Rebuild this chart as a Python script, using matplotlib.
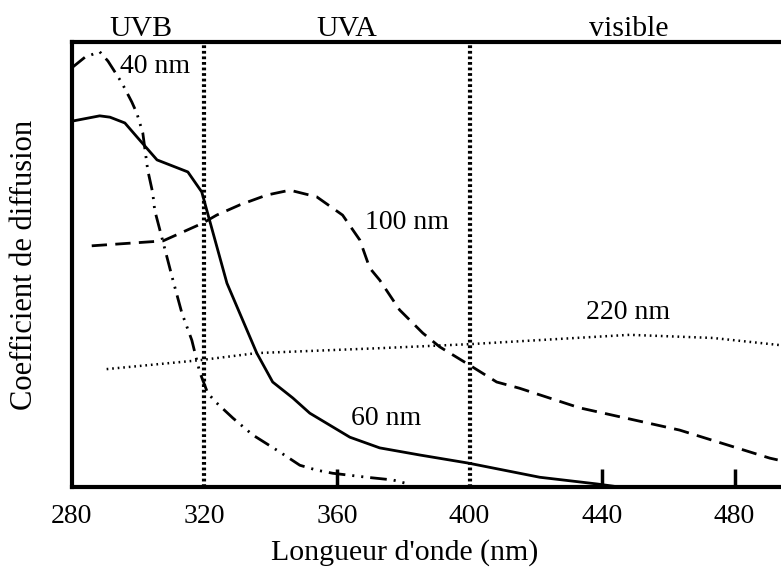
import matplotlib
matplotlib.use("Agg")
import matplotlib.pyplot as plt

plt.rcParams["font.family"] = ["Liberation Serif", "DejaVu Serif"]
plt.rcParams["lines.scale_dashes"] = False

# scattering coefficient (arbitrary units) vs wavelength (nm)
wl_40 = [280.0, 284.0, 288.4, 290.9, 295.1, 298.1, 299.6, 301.4, 302.9, 304.4, 305.0,
         307.5, 310.5, 313.2, 316.2, 318.6, 321.0, 323.7, 328.6, 334.6, 342.7, 348.8,
         353.9, 358.7, 369.0, 376.8, 380.5]
y_40 = [94.2, 96.6, 97.8, 95.7, 90.8, 86.5, 84.0, 79.6, 71.2, 66.1, 62.2,
        55.1, 46.5, 39.1, 33.0, 25.8, 21.1, 18.9, 15.5, 11.7, 7.9, 4.9,
        3.8, 3.1, 2.2, 1.6, 0.9]

wl_60 = [280.0, 288.4, 291.5, 296.0, 299.6, 305.7, 315.0, 319.2, 326.8, 335.8, 340.6,
         346.7, 351.8, 363.9, 372.9, 385.0, 399.5, 421.2, 438.4, 445.3]
y_60 = [82.2, 83.4, 83.1, 81.8, 78.7, 73.5, 70.8, 66.3, 45.8, 30.1, 23.6,
        20.0, 16.6, 11.2, 8.8, 7.2, 5.4, 2.2, 0.7, 0.0]

wl_100 = [286.0, 307.5, 319.5, 323.7, 330.7, 338.8, 345.8, 353.9, 361.7, 366.9, 369.9,
          372.9, 378.9, 385.9, 391.0, 400.0, 408.2, 415.1, 433.2, 463.4, 490.6, 493.0]
y_100 = [54.2, 55.3, 59.3, 61.1, 63.4, 65.6, 66.7, 65.2, 61.1, 55.5, 49.2,
         46.5, 39.8, 34.6, 31.5, 27.4, 23.6, 22.2, 17.8, 12.8, 6.5, 6.1]

wl_220 = [290.5, 318.6, 335.8, 372.9, 400.0, 448.3, 473.4, 493.6]
y_220 = [26.5, 28.5, 30.1, 31.2, 32.1, 34.2, 33.5, 31.9]

x_ticks = [280, 320, 360, 400, 440, 480]
band_edges = [320, 400]
band_names = ["UVB", "UVA", "visible"]
band_centers = [301, 363, 448]

fig = plt.figure(figsize=(7.81, 5.67), dpi=100)
ax = fig.add_axes([0.092, 0.141, 0.908, 0.785])

ax.plot(wl_40, y_40, color="black", lw=2.0, dashes=(12, 5, 1.5, 5, 1.5, 5))
ax.plot(wl_60, y_60, color="black", lw=2.0)
ax.plot(wl_100, y_100, color="black", lw=2.0, dashes=(11, 6))
ax.plot(wl_220, y_220, color="black", lw=1.8, dashes=(1.2, 2.8))

for xe in band_edges:
    ax.axvline(xe, color="black", lw=3, dashes=(2, 2))

ax.set_xlim(280, 494)
ax.set_ylim(0, 100)

fs = 20
ax.text(305, 94.4, "40 nm", fontsize=fs, ha="center", va="center")
ax.text(374.7, 15.5, "60 nm", fontsize=fs, ha="center", va="center")
ax.text(381, 59.5, "100 nm", fontsize=fs, ha="center", va="center")
ax.text(447.7, 39.3, "220 nm", fontsize=fs, ha="center", va="center")

for name, xc in zip(band_names, band_centers):
    ax.annotate(name, (xc, 1.0), xycoords=ax.get_xaxis_transform(),
                xytext=(0, 4), textcoords="offset points",
                fontsize=21.5, ha="center", va="baseline")

ax.spines["right"].set_visible(False)
for side in ["left", "top", "bottom"]:
    ax.spines[side].set_linewidth(3)

ax.set_xticks(x_ticks)
ax.set_yticks([])
ax.tick_params(axis="x", direction="in", length=13, width=2.5, labelsize=fs, pad=12)
# tick marks hidden where the spine or the band edges sit
for val, tick in zip(x_ticks, ax.xaxis.get_major_ticks()):
    if val in (280, 320, 400):
        tick.tick1line.set_visible(False)

ax.set_xlabel("Longueur d'onde (nm)", fontsize=21.5, va="baseline")
ax.xaxis.set_label_coords(0.47, -0.164)
ax.set_ylabel("Coefficient de diffusion", fontsize=22, labelpad=24)

fig.savefig("out.png", dpi=100)
